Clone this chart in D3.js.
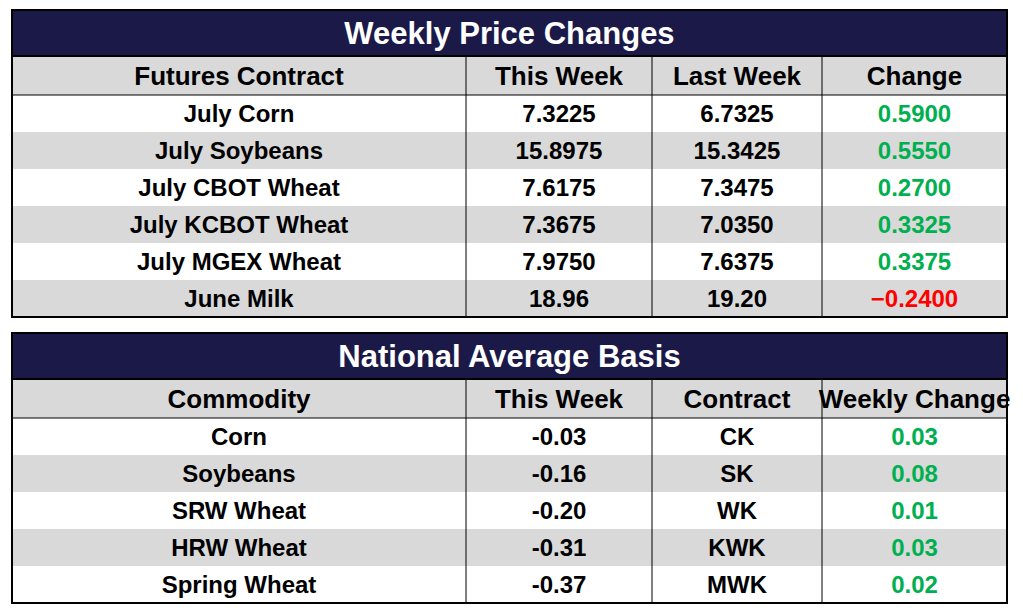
<!DOCTYPE html>
<html><head><meta charset="utf-8">
<script src="https://cdn.jsdelivr.net/npm/d3@7"></script>
<style>body{margin:0;background:#fff}</style>
</head><body>
<div id="graph_container" style="width:1023px;height:615px"></div>
<script>
var chartDiv = document.getElementById("graph_container");
var svg      = d3.select(chartDiv).append("svg").attr("width", 1023).attr("height", 615);

var font   = "'Liberation Sans Narrow', 'Arial Narrow', sans-serif";
var navy   = "#1a1947";
var gray   = "#d9d9d9";
var green  = "#00b050";
var red    = "#ff0000";
var cols   = [12, 466, 652, 822, 1007];

var tables = [
    {
        "title": "Weekly Price Changes",
        "top": 10,
        "header": ["Futures Contract", "This Week", "Last Week", "Change"],
        "rows": [
            ["July Corn",        "7.3225",  "6.7325",  0.5900],
            ["July Soybeans",    "15.8975", "15.3425", 0.5550],
            ["July CBOT Wheat",  "7.6175",  "7.3475",  0.2700],
            ["July KCBOT Wheat", "7.3675",  "7.0350",  0.3325],
            ["July MGEX Wheat",  "7.9750",  "7.6375",  0.3375],
            ["June Milk",        "18.96",   "19.20",   -0.2400]
        ],
        "fmt": d3.format(".4f")
    },
    {
        "title": "National Average Basis",
        "top": 333,
        "header": ["Commodity", "This Week", "Contract", "Weekly Change"],
        "rows": [
            ["Corn",         "-0.03", "CK",  0.03],
            ["Soybeans",     "-0.16", "SK",  0.08],
            ["SRW Wheat",    "-0.20", "WK",  0.01],
            ["HRW Wheat",    "-0.31", "KWK", 0.03],
            ["Spring Wheat", "-0.37", "MWK", 0.02]
        ],
        "fmt": d3.format(".2f")
    }
];

var titleH = 46, headH = 39, rowH = 37;

function draw_table(t) {
    var g = svg.append("g");
    var x0 = cols[0], x1 = cols[cols.length - 1];
    var y = d3.scaleLinear().domain([0, 1]).range([t.top + titleH + headH, t.top + titleH + headH + rowH]);
    var bottom = y(t.rows.length);

    g.append("rect").attr("x", x0).attr("y", t.top).attr("width", x1 - x0).attr("height", titleH).attr("fill", navy);
    g.append("rect").attr("x", x0).attr("y", t.top + titleH).attr("width", x1 - x0).attr("height", headH).attr("fill", gray);

    g.selectAll(".row").data(t.rows).enter().append("rect")
        .attr("x", x0).attr("y", function(d, i) { return y(i); })
        .attr("width", x1 - x0).attr("height", rowH)
        .attr("fill", function(d, i) { return i % 2 ? gray : "#fff"; });

    // column lines
    g.selectAll(".col").data(cols.slice(1, -1)).enter().append("line")
        .attr("x1", function(d) { return d; }).attr("x2", function(d) { return d; })
        .attr("y1", t.top + titleH).attr("y2", bottom)
        .attr("stroke", "#000").attr("stroke-width", 1);

    g.append("line").attr("x1", x0).attr("x2", x1).attr("y1", y(0)).attr("y2", y(0))
        .attr("stroke", "#000").attr("stroke-width", 1);
    g.append("line").attr("x1", x0).attr("x2", x1).attr("y1", t.top + titleH).attr("y2", t.top + titleH)
        .attr("stroke", "#000").attr("stroke-width", 2);
    g.append("rect").attr("x", x0).attr("y", t.top).attr("width", x1 - x0).attr("height", bottom - t.top)
        .attr("fill", "none").attr("stroke", "#000").attr("stroke-width", 2);

    g.append("text").attr("x", (x0 + x1) / 2).attr("y", t.top + titleH / 2 + 11)
        .attr("text-anchor", "middle").attr("font-family", font).attr("font-weight", "bold")
        .attr("font-size", 31).attr("fill", "#fff").text(t.title);

    g.selectAll(".head").data(t.header).enter().append("text")
        .attr("x", function(d, i) { return (cols[i] + cols[i + 1]) / 2; })
        .attr("y", t.top + titleH + headH / 2 + 9)
        .attr("text-anchor", "middle").attr("font-family", font).attr("font-weight", "bold")
        .attr("font-size", 26).attr("fill", "#000").text(function(d) { return d; });

    for (var r = 0; r < t.rows.length; r++) {
        g.selectAll(".cell" + r).data(t.rows[r]).enter().append("text")
            .attr("x", function(d, i) { return (cols[i] + cols[i + 1]) / 2; })
            .attr("y", y(r) + rowH / 2 + 8)
            .attr("text-anchor", "middle").attr("font-family", font).attr("font-weight", "bold")
            .attr("font-size", 24)
            .attr("fill", function(d, i) { return i === 3 ? (d < 0 ? red : green) : "#000"; })
            .text(function(d, i) { return i === 3 ? t.fmt(d) : d; });
    }
}

tables.forEach(draw_table);
</script>
</body></html>
